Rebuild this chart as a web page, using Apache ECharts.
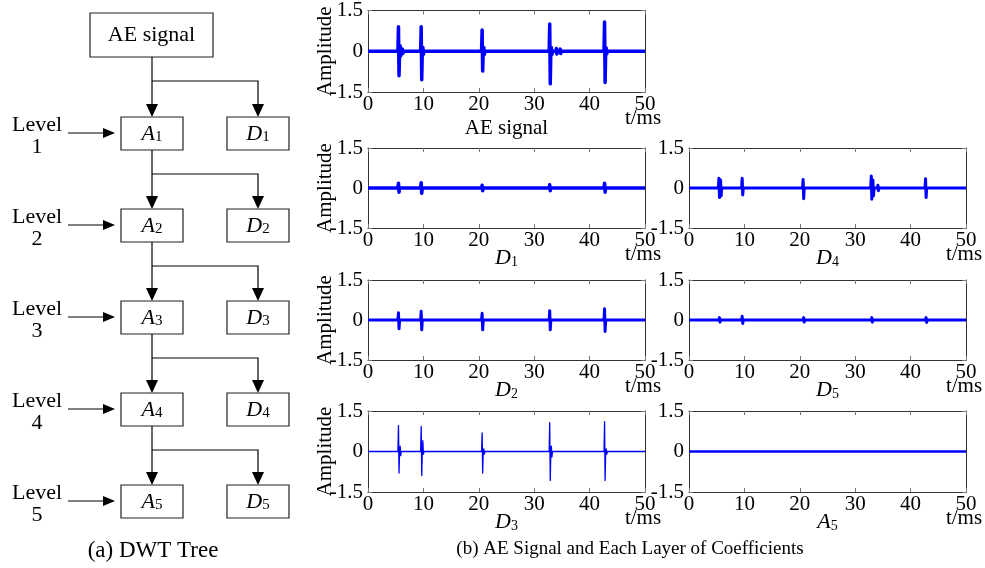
<!DOCTYPE html>
<html><head><meta charset="utf-8">
<script src="https://cdn.jsdelivr.net/npm/echarts@6/dist/echarts.min.js"></script>
<style>html,body{margin:0;padding:0;background:#fff}#c{width:985px;height:568px}</style>
</head><body><div id="c"></div>
<script>
// ---------- data ----------
const xMin = 0, xMax = 50, xStep = 10;
const yMin = -1.5, yMax = 1.5, yStep = 1.5;
const xUnit = 't/ms';
const yName = 'Amplitude';
// [time ms, positive peak, negative peak]
const aeBursts = [[5.5,0.9,-0.9],[5.8,0.2,-0.18],[6.2,0.08,-0.08],[9.6,0.9,-1.05],[9.9,0.14,-0.12],[18.6,0.06,-0.06],[20.6,0.78,-0.73],[20.9,0.14,-0.12],[32.8,1.0,-1.2],[33.1,0.14,-0.12],[34.0,0.1,-0.1],[34.7,0.08,-0.08],[42.7,1.08,-1.15],[43.0,0.12,-0.1]];
const d1Bursts = [[5.5,0.18,-0.16],[9.6,0.2,-0.2],[20.6,0.1,-0.1],[32.8,0.12,-0.1],[34.0,0.06,-0.06],[42.7,0.18,-0.16]];
const d4Bursts = [[5.4,0.37,-0.36],[5.7,0.3,-0.3],[9.6,0.37,-0.26],[20.6,0.32,-0.4],[32.9,0.45,-0.42],[33.2,0.3,-0.3],[34.1,0.1,-0.1],[42.7,0.35,-0.36]];
const d2Bursts = [[5.5,0.27,-0.33],[9.6,0.33,-0.37],[20.6,0.25,-0.37],[32.8,0.35,-0.37],[38.0,0.05,0],[40.0,0.05,0],[42.7,0.42,-0.43]];
const d5Bursts = [[5.5,0.09,-0.08],[9.6,0.14,-0.13],[20.7,0.09,-0.08],[33.0,0.09,-0.08],[42.8,0.09,-0.09]];
const d3Bursts = [[5.5,0.96,-0.8],[5.8,0.2,-0.15],[6.2,0.06,-0.06],[9.6,0.93,-0.89],[9.9,0.4,-0.1],[20.6,0.69,-0.8],[20.9,0.1,-0.1],[32.8,1.07,-1.07],[33.1,0.2,-0.2],[34.0,0.05,-0.05],[42.7,1.11,-1.07],[43.0,0.1,-0.1]];
const a5Bursts = [];
const levels = [1, 2, 3, 4, 5];

// ---------- layout / style ----------
const FONT = '"Liberation Serif","Times New Roman",serif';
const BLUE = '#0000ff';
const PW = 277;
const panels = [
  {name:'AE signal', bursts:aeBursts, left:368, top:9,   height:83, amp:true,  lw:3.5},
  {name:['D','1'],   bursts:d1Bursts, left:368, top:148, height:80, amp:true,  lw:3.5},
  {name:['D','4'],   bursts:d4Bursts, left:689, top:148, height:80, amp:false, lw:3},
  {name:['D','2'],   bursts:d2Bursts, left:368, top:280, height:80, amp:true,  lw:3},
  {name:['D','5'],   bursts:d5Bursts, left:689, top:280, height:80, amp:false, lw:3},
  {name:['D','3'],   bursts:d3Bursts, left:368, top:411, height:81, amp:true,  lw:1.3},
  {name:['A','5'],   bursts:a5Bursts, left:689, top:411, height:81, amp:false, lw:2.3}
];
const richSub = (fs, ss) => ({
  i:{fontFamily:FONT, fontStyle:'italic', fontSize:fs, color:'#000', lineHeight:22, verticalAlign:'bottom'},
  s:{fontFamily:FONT, fontSize:ss, color:'#000', lineHeight:10, verticalAlign:'bottom'}
});

function buildPoints(bursts){
  const pts = [[xMin,0]];
  bursts.forEach(([t,hi,lo]) => { pts.push([t-0.1,0],[t,hi],[t+0.1,lo],[t+0.2,0]); });
  pts.push([xMax,0]);
  return pts;
}

const axisLine = {show:true, onZero:false, lineStyle:{color:'#333', width:1}};
const axisTick = {show:true, inside:true, length:4, lineStyle:{color:'#777'}};
const grid = [], xAxis = [], yAxis = [], series = [], graphic = [];

panels.forEach((p, k) => {
  grid.push({left:p.left, top:p.top, width:PW, height:p.height});
  const isRich = Array.isArray(p.name);
  xAxis.push({
    type:'value', gridIndex:k, min:xMin, max:xMax, interval:xStep, position:'bottom',
    axisLine, axisTick, splitLine:{show:false},
    axisLabel:{fontFamily:FONT, fontSize:21, color:'#000', margin:2},
    name: isRich ? '{i|' + p.name[0] + '}{s|' + p.name[1] + '}' : p.name,
    nameLocation:'middle', nameGap: isRich ? 19 : 26, nameMoveOverlap:false,
    nameTextStyle: isRich ? {rich:richSub(22,14)} : {fontFamily:FONT, fontSize:21, color:'#000'}
  });
  xAxis.push({
    type:'value', gridIndex:k, min:xMin, max:xMax, interval:xStep, position:'top',
    axisLine, axisTick, axisLabel:{show:false}, splitLine:{show:false}
  });
  yAxis.push({
    type:'value', gridIndex:k, min:yMin, max:yMax, interval:yStep, position:'left',
    axisLine, axisTick, splitLine:{show:false},
    axisLabel:{fontFamily:FONT, fontSize:21, color:'#000', margin:5},
    name: p.amp ? yName : '', nameLocation:'middle', nameGap:32, nameMoveOverlap:false,
    nameTextStyle:{fontFamily:FONT, fontSize:21, color:'#000'}
  });
  yAxis.push({
    type:'value', gridIndex:k, min:yMin, max:yMax, interval:yStep, position:'right',
    axisLine, axisTick, axisLabel:{show:false}, splitLine:{show:false}
  });
  series.push({
    type:'line', xAxisIndex:2*k, yAxisIndex:2*k, data:buildPoints(p.bursts),
    showSymbol:false, symbol:'none', animation:false,
    lineStyle:{color:BLUE, width:p.lw, join:'round', cap:'butt'}
  });
  graphic.push({type:'text', x:p.left+PW-2, y:p.top+p.height+26,
    style:{text:xUnit, fontFamily:FONT, fontSize:21, fill:'#000', align:'center', verticalAlign:'middle', textAlign:'center', textVerticalAlign:'middle'}});
});

// ---------- DWT tree ----------
const AX = 152, DX = 258;
function txt(x, y, text, size, extra){
  return {type:'text', x, y, style:Object.assign({text, fontFamily:FONT, fontSize:size, fill:'#000',
    align:'center', verticalAlign:'middle', textAlign:'center', textVerticalAlign:'middle'}, extra||{})};
}
function line(x1,y1,x2,y2){ return {type:'line', shape:{x1,y1,x2,y2}, style:{stroke:'#000', lineWidth:1.2}}; }
function poly(points){ return {type:'polygon', shape:{points}, style:{fill:'#000'}}; }
function box(x,y,w,h){ return {type:'rect', shape:{x,y,width:w,height:h}, style:{fill:'#fff', stroke:'#222', lineWidth:1.2}}; }

graphic.push(box(90,13,123,44));
graphic.push(txt(151.5,35,'AE signal',22));
levels.forEach((lv, i) => {
  const top = 117 + 92*i;
  const prevBottom = i === 0 ? 57 : top - 92 + 33;
  const by = prevBottom + 24;
  graphic.push(line(AX, prevBottom, AX, top-12));
  graphic.push({type:'polyline', shape:{points:[[AX,by],[DX,by],[DX,top-12]]}, style:{stroke:'#000', lineWidth:1.2, fill:null}});
  graphic.push(poly([[AX-6,top-13],[AX+6,top-13],[AX,top]]));
  graphic.push(poly([[DX-6,top-13],[DX+6,top-13],[DX,top]]));
  graphic.push(box(121,top,62,33));
  graphic.push(box(227,top,62,33));
  graphic.push({type:'text', x:AX, y:top+17, style:{text:'{i|A}{s|'+lv+'}', rich:richSub(22,15), align:'center', verticalAlign:'middle', textAlign:'center', textVerticalAlign:'middle'}});
  graphic.push({type:'text', x:DX, y:top+17, style:{text:'{i|D}{s|'+lv+'}', rich:richSub(22,15), align:'center', verticalAlign:'middle', textAlign:'center', textVerticalAlign:'middle'}});
  graphic.push(txt(37, top+8, 'Level', 22));
  graphic.push(txt(37, top+30, String(lv), 22));
  graphic.push(line(68, top+16, 104, top+16));
  graphic.push(poly([[103,top+11],[103,top+21],[115,top+16]]));
});
graphic.push(txt(153, 551, '(a) DWT Tree', 23));
graphic.push(txt(630, 549, '(b) AE Signal and Each Layer of Coefficients', 19));

const chart = echarts.init(document.getElementById('c'), null, {renderer:'canvas'});
chart.setOption({animation:false, backgroundColor:'#fff', grid, xAxis, yAxis, series, graphic});
</script>
</body></html>
